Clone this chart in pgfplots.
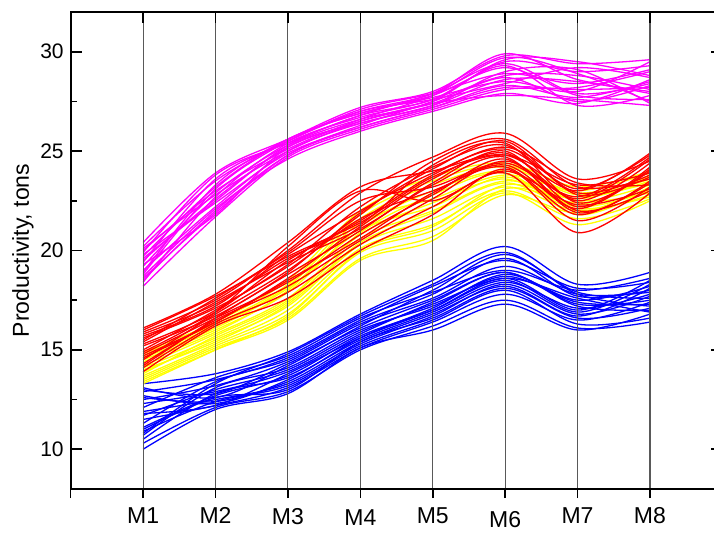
\documentclass[border=0pt]{standalone}
\usepackage{pgfplots}
\pgfplotsset{compat=1.18}
\usepackage{fontspec}
\setmainfont{Liberation Sans}
\definecolor{mag}{RGB}{255,0,255}
\definecolor{rd}{RGB}{255,0,0}
\definecolor{yl}{RGB}{255,255,0}
\definecolor{bl}{RGB}{0,0,255}
\begin{document}
\begin{tikzpicture}
\begin{axis}[
  scale only axis, width=325.85pt, height=238.5pt,
  xmin=0, xmax=9, ymin=8, ymax=32,
  xtick={1,2,...,8}, xticklabels={}, xtick pos=right,
  xmajorgrids, major grid style={draw=black!65, line width=0.55pt},
  ytick={10,15,20,25,30}, minor ytick={12.5,17.5,22.5,27.5},
  ytick pos=both, yticklabel pos=left,
  tick align=inside, major tick length=5.5pt, minor tick length=3pt,
  every tick/.style={black, line width=0.8pt},
  axis line style={line width=1pt},
  axis on top,
  ylabel={Productivity, tons},
  ylabel style={at={(axis description cs:-0.0732,0.5)}, anchor=center, font=\fontsize{11.5}{13}\selectfont},
  yticklabel style={font=\fontsize{10.5}{12}\selectfont},
  /pgf/number format/assume math mode=true,
  every axis plot/.append style={smooth, tension=0.55, line width=0.65pt, mark=none},
]
% blue
\addplot[bl] coordinates {(1,13.3)(2,13.8)(3,14.9)(4,16.8)(5,18.5)(6,20.2)(7,18.3)(8,18.9)};
\addplot[bl] coordinates {(1,13.1)(2,12.6)(3,14.2)(4,16.2)(5,18.0)(6,19.8)(7,17.9)(8,17.6)};
\addplot[bl] coordinates {(1,12.9)(2,13.5)(3,14.6)(4,16.5)(5,18.2)(6,19.5)(7,18.1)(8,18.4)};
\addplot[bl] coordinates {(1,12.7)(2,12.3)(3,13.5)(4,15.6)(5,17.1)(6,18.8)(7,17.5)(8,18.2)};
\addplot[bl] coordinates {(1,12.5)(2,13.2)(3,14.4)(4,16.3)(5,17.6)(6,19.2)(7,17.8)(8,17.9)};
\addplot[bl] coordinates {(1,12.3)(2,12.9)(3,13.9)(4,15.8)(5,17.4)(6,18.9)(7,17.2)(8,17.0)};
\addplot[bl] coordinates {(1,12.1)(2,13.6)(3,14.7)(4,16.6)(5,17.9)(6,19.0)(7,18.0)(8,18.6)};
\addplot[bl] coordinates {(1,11.9)(2,12.5)(3,13.3)(4,15.3)(5,16.7)(6,18.3)(7,16.8)(8,17.7)};
\addplot[bl] coordinates {(1,11.7)(2,13.0)(3,14.0)(4,15.9)(5,17.3)(6,18.6)(7,17.6)(8,16.9)};
\addplot[bl] coordinates {(1,11.5)(2,12.2)(3,13.1)(4,15.1)(5,16.4)(6,17.8)(7,16.5)(8,17.4)};
\addplot[bl] coordinates {(1,11.3)(2,13.4)(3,14.5)(4,16.4)(5,17.8)(6,19.6)(7,17.7)(8,18.0)};
\addplot[bl] coordinates {(1,11.1)(2,12.7)(3,13.7)(4,15.7)(5,17.0)(6,18.5)(7,16.9)(8,18.3)};
\addplot[bl] coordinates {(1,10.9)(2,12.4)(3,13.2)(4,15.2)(5,16.5)(6,18.0)(7,16.3)(8,16.6)};
\addplot[bl] coordinates {(1,10.7)(2,13.1)(3,14.1)(4,16.0)(5,17.2)(6,18.7)(7,17.4)(8,17.3)};
\addplot[bl] coordinates {(1,10.5)(2,12.8)(3,13.6)(4,15.5)(5,16.9)(6,18.4)(7,17.1)(8,17.8)};
\addplot[bl] coordinates {(1,10.3)(2,12.1)(3,12.9)(4,15.0)(5,16.2)(6,17.5)(7,16.1)(8,16.4)};
\addplot[bl] coordinates {(1,10.0)(2,12.0)(3,12.8)(4,15.1)(5,16.0)(6,17.3)(7,16.0)(8,16.8)};
\addplot[bl] coordinates {(1,13.0)(2,12.8)(3,14.3)(4,16.1)(5,17.5)(6,18.9)(7,17.3)(8,17.5)};
\addplot[bl] coordinates {(1,12.6)(2,12.4)(3,13.4)(4,15.4)(5,16.8)(6,18.2)(7,16.7)(8,18.1)};
\addplot[bl] coordinates {(1,10.8)(2,13.3)(3,14.8)(4,16.7)(5,18.3)(6,19.9)(7,17.8)(8,17.2)};
\addplot[bl] coordinates {(1,11.8)(2,12.2)(3,13.8)(4,15.6)(5,17.0)(6,18.6)(7,17.0)(8,18.5)};
\addplot[bl] coordinates {(1,11.0)(2,12.6)(3,13.0)(4,15.4)(5,16.6)(6,18.1)(7,16.6)(8,17.1)};
% yellow
\addplot[yl] coordinates {(1,14.9)(2,16.4)(3,18.5)(4,22.0)(5,23.7)(6,24.4)(7,23.2)(8,24.0)};
\addplot[yl] coordinates {(1,14.7)(2,16.2)(3,18.2)(4,21.6)(5,23.3)(6,24.2)(7,22.8)(8,23.6)};
\addplot[yl] coordinates {(1,14.5)(2,16.0)(3,17.9)(4,21.2)(5,23.0)(6,24.0)(7,22.5)(8,23.3)};
\addplot[yl] coordinates {(1,14.4)(2,15.9)(3,18.0)(4,21.4)(5,22.6)(6,23.8)(7,23.0)(8,23.9)};
\addplot[yl] coordinates {(1,14.2)(2,15.8)(3,17.6)(4,20.8)(5,22.4)(6,23.6)(7,22.2)(8,23.0)};
\addplot[yl] coordinates {(1,14.1)(2,15.6)(3,17.4)(4,20.6)(5,22.0)(6,23.5)(7,22.7)(8,23.4)};
\addplot[yl] coordinates {(1,13.9)(2,15.5)(3,17.2)(4,20.3)(5,21.6)(6,23.2)(7,22.0)(8,22.8)};
\addplot[yl] coordinates {(1,13.8)(2,15.7)(3,17.5)(4,20.9)(5,22.8)(6,23.9)(7,21.8)(8,23.1)};
\addplot[yl] coordinates {(1,13.7)(2,15.3)(3,17.0)(4,20.1)(5,21.3)(6,23.0)(7,21.6)(8,22.6)};
\addplot[yl] coordinates {(1,13.6)(2,15.2)(3,16.8)(4,19.9)(5,21.0)(6,22.9)(7,21.3)(8,22.5)};
\addplot[yl] coordinates {(1,13.5)(2,15.1)(3,16.6)(4,19.6)(5,20.7)(6,22.8)(7,21.9)(8,23.2)};
\addplot[yl] coordinates {(1,13.4)(2,15.0)(3,16.5)(4,19.5)(5,20.5)(6,23.1)(7,22.4)(8,22.9)};
\addplot[yl] coordinates {(1,14.8)(2,16.3)(3,18.3)(4,21.8)(5,23.5)(6,24.3)(7,22.9)(8,23.7)};
\addplot[yl] coordinates {(1,14.0)(2,15.4)(3,17.3)(4,20.4)(5,21.9)(6,23.4)(7,22.1)(8,22.7)};
\addplot[yl] coordinates {(1,13.3)(2,15.0)(3,16.7)(4,20.0)(5,21.2)(6,23.3)(7,22.6)(8,23.5)};
\addplot[yl] coordinates {(1,14.6)(2,16.1)(3,18.1)(4,21.0)(5,22.2)(6,23.7)(7,22.3)(8,23.8)};
% red
\addplot[rd] coordinates {(1,16.1)(2,17.8)(3,20.4)(4,23.2)(5,24.0)(6,24.8)(7,23.0)(8,24.9)};
\addplot[rd] coordinates {(1,15.9)(2,17.5)(3,20.0)(4,22.9)(5,24.7)(6,25.9)(7,23.6)(8,24.5)};
\addplot[rd] coordinates {(1,15.8)(2,17.3)(3,19.6)(4,21.3)(5,24.3)(6,25.4)(7,22.4)(8,24.0)};
\addplot[rd] coordinates {(1,15.6)(2,17.1)(3,19.2)(4,21.8)(5,24.5)(6,25.6)(7,23.2)(8,23.6)};
\addplot[rd] coordinates {(1,15.5)(2,17.6)(3,19.9)(4,22.5)(5,23.2)(6,24.4)(7,22.7)(8,24.7)};
\addplot[rd] coordinates {(1,15.3)(2,16.9)(3,19.5)(4,21.5)(5,23.8)(6,25.2)(7,23.4)(8,23.3)};
\addplot[rd] coordinates {(1,15.2)(2,16.7)(3,18.8)(4,21.0)(5,23.4)(6,25.0)(7,22.2)(8,24.2)};
\addplot[rd] coordinates {(1,15.0)(2,17.0)(3,19.3)(4,22.2)(5,24.2)(6,25.3)(7,22.9)(8,23.8)};
\addplot[rd] coordinates {(1,14.8)(2,16.6)(3,18.4)(4,20.8)(5,22.8)(6,24.6)(7,22.0)(8,23.0)};
\addplot[rd] coordinates {(1,14.6)(2,16.4)(3,18.6)(4,21.2)(5,23.6)(6,24.9)(7,22.5)(8,24.4)};
\addplot[rd] coordinates {(1,14.5)(2,16.8)(3,19.0)(4,21.6)(5,23.0)(6,24.2)(7,21.8)(8,23.5)};
\addplot[rd] coordinates {(1,14.3)(2,16.5)(3,18.2)(4,20.5)(5,22.6)(6,24.5)(7,22.6)(8,24.6)};
\addplot[rd] coordinates {(1,14.1)(2,16.3)(3,17.9)(4,20.3)(5,22.2)(6,23.9)(7,20.9)(8,22.9)};
\addplot[rd] coordinates {(1,13.9)(2,16.2)(3,17.6)(4,20.0)(5,21.8)(6,24.1)(7,21.5)(8,23.2)};
\addplot[rd] coordinates {(1,15.7)(2,17.2)(3,19.8)(4,22.0)(5,23.9)(6,25.1)(7,23.1)(8,24.8)};
\addplot[rd] coordinates {(1,14.9)(2,16.9)(3,20.2)(4,23.0)(5,22.5)(6,24.0)(7,22.3)(8,23.1)};
\addplot[rd] coordinates {(1,14.2)(2,16.6)(3,18.9)(4,21.9)(5,24.1)(6,25.5)(7,22.8)(8,23.7)};
\addplot[rd] coordinates {(1,15.4)(2,17.4)(3,19.4)(4,21.1)(5,23.3)(6,24.7)(7,21.9)(8,23.4)};
\addplot[rd] coordinates {(1,14.7)(2,16.4)(3,18.5)(4,20.6)(5,22.9)(6,24.3)(7,22.1)(8,24.1)};
\addplot[rd] coordinates {(1,16.0)(2,17.7)(3,19.7)(4,21.4)(5,23.7)(6,24.8)(7,23.3)(8,23.9)};
% magenta
\addplot[mag] coordinates {(1,20.4)(2,23.9)(3,25.6)(4,27.2)(5,28.0)(6,29.8)(7,29.4)(8,29.6)};
\addplot[mag] coordinates {(1,20.2)(2,23.5)(3,25.5)(4,27.0)(5,27.9)(6,29.9)(7,28.6)(8,28.0)};
\addplot[mag] coordinates {(1,19.9)(2,23.8)(3,25.4)(4,26.8)(5,27.6)(6,29.5)(7,29.0)(8,29.3)};
\addplot[mag] coordinates {(1,19.7)(2,23.2)(3,25.6)(4,26.9)(5,27.8)(6,29.2)(7,27.8)(8,27.6)};
\addplot[mag] coordinates {(1,19.5)(2,22.6)(3,25.2)(4,26.5)(5,27.5)(6,29.6)(7,29.5)(8,28.8)};
\addplot[mag] coordinates {(1,19.4)(2,23.6)(3,25.5)(4,27.1)(5,27.9)(6,28.9)(7,28.4)(8,29.1)};
\addplot[mag] coordinates {(1,19.2)(2,22.9)(3,25.3)(4,26.6)(5,27.4)(6,28.7)(7,27.5)(8,28.3)};
\addplot[mag] coordinates {(1,19.0)(2,22.2)(3,25.0)(4,26.4)(5,27.3)(6,29.0)(7,29.1)(8,27.4)};
\addplot[mag] coordinates {(1,18.9)(2,23.3)(3,25.6)(4,26.9)(5,27.7)(6,28.5)(7,28.0)(8,29.5)};
\addplot[mag] coordinates {(1,19.8)(2,22.4)(3,24.9)(4,26.2)(5,27.2)(6,28.3)(7,27.7)(8,28.5)};
\addplot[mag] coordinates {(1,18.6)(2,21.9)(3,24.8)(4,26.3)(5,27.5)(6,28.8)(7,28.8)(8,28.1)};
\addplot[mag] coordinates {(1,18.4)(2,22.7)(3,25.4)(4,26.7)(5,27.6)(6,29.3)(7,27.3)(8,27.8)};
\addplot[mag] coordinates {(1,18.2)(2,21.7)(3,24.7)(4,26.1)(5,27.1)(6,28.1)(7,28.2)(8,29.0)};
\addplot[mag] coordinates {(1,20.0)(2,23.0)(3,25.1)(4,26.6)(5,27.8)(6,29.7)(7,28.9)(8,27.5)};
\addplot[mag] coordinates {(1,18.7)(2,22.1)(3,24.6)(4,26.0)(5,27.0)(6,27.9)(7,27.4)(8,28.6)};
\addplot[mag] coordinates {(1,19.3)(2,21.8)(3,25.2)(4,26.4)(5,27.3)(6,28.6)(7,28.5)(8,27.9)};
\addplot[mag] coordinates {(1,19.6)(2,22.5)(3,25.3)(4,26.8)(5,27.9)(6,29.4)(7,27.9)(8,28.4)};
\addplot[mag] coordinates {(1,18.8)(2,23.1)(3,25.5)(4,27.0)(5,27.6)(6,28.4)(7,29.2)(8,28.7)};
\addplot[mag] coordinates {(1,20.1)(2,22.8)(3,25.0)(4,26.5)(5,27.4)(6,27.8)(7,27.6)(8,27.3)};
\addplot[mag] coordinates {(1,18.5)(2,22.0)(3,24.8)(4,26.2)(5,27.2)(6,28.2)(7,28.1)(8,28.2)};
\end{axis}
\begin{axis}[
  scale only axis, width=325.85pt, height=238.5pt,
  xmin=0, xmax=9, ymin=8, ymax=32,
  axis x line*=bottom, axis y line=none,
  xtick={0,1,...,8},
  xticklabels={,M1,\raisebox{0.5pt}[\height][\depth]{M2},M3,\raisebox{-1pt}[\height][\depth]{M4},M5,\raisebox{-1.5pt}[\height][\depth]{M6},M7,\raisebox{0.5pt}[\height][\depth]{M8}},
  tick align=outside, major tick length=4.5pt,
  every tick/.style={black, line width=0.8pt},
  axis line style={line width=1pt, -},
  xticklabel style={font=\fontsize{11.5}{13}\selectfont, yshift=-1.5pt},
]
\end{axis}
\pgfresetboundingbox
\useasboundingbox (-35.35pt,-21.5pt) rectangle (321.65pt,244.5pt);
\end{tikzpicture}
\end{document}
